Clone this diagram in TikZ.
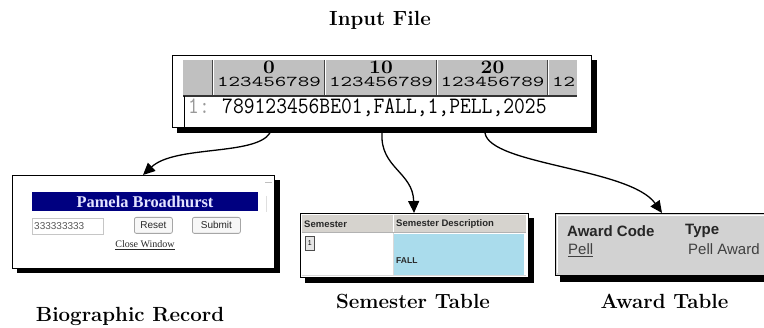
\documentclass[tikz,border=0pt]{standalone}
\usepackage{fontspec}
\usepackage{graphicx}
\usetikzlibrary{arrows.meta,calc}
\newfontfamily\sansf{Liberation Sans}
\newfontfamily\seriff{Liberation Serif}
\definecolor{hdrgray}{RGB}{192,192,192}
\definecolor{wingray}{RGB}{214,211,206}
\definecolor{navyb}{RGB}{0,0,128}
\definecolor{lav}{RGB}{228,228,255}
\definecolor{cellblue}{RGB}{170,220,236}
\definecolor{awgray}{RGB}{210,210,210}
\definecolor{txtdark}{RGB}{40,40,40}
\newcommand{\hdrdig}[1]{\scalebox{1.49}[1]{\fontsize{15}{15}\ttfamily #1}}
\newcommand{\hdrbold}[1]{\scalebox{1.1}[1]{\fontsize{19}{19}\bfseries #1}}
\newcommand{\rowtxt}[1]{\scalebox{1}[1.12]{\fontsize{21}{21}\ttfamily #1}}
\begin{document}
\begin{tikzpicture}[x=1pt,y=-1pt,
  box/.style={draw=black, line width=0.9pt, anchor=north west, inner sep=0pt, outer sep=0pt},
  shadowfill/.style={fill=black},
  caption/.style={anchor=base, inner sep=0pt, font=\fontsize{20.5}{22}\selectfont\bfseries},
  conn/.style={line width=1.3pt, -{Triangle[length=12pt,width=11pt]}},
  btn/.style={draw=gray!70, fill=gray!6, rounded corners=2pt, line width=0.8pt, anchor=north west, inner sep=0pt},
  smallsans/.style={inner sep=0pt, font=\fontsize{10}{10}\sansf},
  hdrtxt/.style={anchor=base, inner sep=0pt},
]
\useasboundingbox (0,0) rectangle (764,328);
\clip (0,0) rectangle (764,328);

% ---------- Input file ----------
\node[caption] (tinput) at (380,26) {Input File};
\fill[shadowfill] (177,60) rectangle (597,133);
\node[box, fill=white, minimum width=419pt, minimum height=72pt] (input) at (172,55) {};
\fill[hdrgray] (183,60) rectangle (577,95);
\foreach \xx in {213,325,437,548} {
  \draw[gray!55!black, line width=0.8pt] (\xx-1,60) -- (\xx-1,95);
  \draw[white, line width=1pt] (\xx,60) -- (\xx,95);
}
\draw[gray!40!black, line width=1.4pt] (183,96) -- (577,96);
\draw[black, line width=0.8pt] (184,96) -- (184,127);
\node[hdrtxt] (h0) at (269,73.5) {\hdrbold{0}};
\node[hdrtxt] (h10) at (381,73.5) {\hdrbold{10}};
\node[hdrtxt] (h20) at (492.5,73.5) {\hdrbold{20}};
\node[hdrtxt] (d1) at (269,86.5) {\hdrdig{123456789}};
\node[hdrtxt] (d2) at (381,86.5) {\hdrdig{123456789}};
\node[hdrtxt] (d3) at (492.5,86.5) {\hdrdig{123456789}};
\node[hdrtxt, anchor=base west] (d4) at (552,86.5) {\hdrdig{12}};
\node[anchor=base west, inner sep=0pt, text=gray!80] (rownum) at (188,114) {\rowtxt{1:}};
\node[anchor=base west, inner sep=0pt] (row) at (222,114) {\rowtxt{789123456BE01,FALL,1,PELL,2025}};

% ---------- Biographic record ----------
\fill[shadowfill] (17,180) rectangle (280,273);
\node[box, fill=white, minimum width=262pt, minimum height=93pt] (bio) at (12,175) {};
\draw[gray!50, line width=1pt] (265,183) -- (272,183);
\draw[gray!25, line width=0.8pt] (266,196) -- (266,212);
\fill[navyb] (32,192) rectangle (258,211);
\node[inner sep=0pt, text=lav, font={\fontsize{16.4}{17}\seriff\bfseries}] (pname) at (145,202) {Pamela Broadhurst};
\node[draw=gray!45, fill=white, line width=0.8pt, anchor=north west, minimum width=71pt, minimum height=16pt, inner sep=0pt] (idfield) at (32,218) {};
\node[smallsans, anchor=west, text=gray!70!black] (idtext) at (34,226.5) {333333333};
\node[btn, minimum width=38pt, minimum height=16pt] (reset) at (134,217) {};
\node[smallsans, text=txtdark] (resett) at (reset.center) {Reset};
\node[btn, minimum width=48pt, minimum height=16pt] (submit) at (192,217) {};
\node[smallsans, text=txtdark] (submitt) at (submit.center) {Submit};
\node[inner sep=0pt, text=txtdark, font={\fontsize{10}{10}\seriff}] (close) at (145,244) {Close Window};
\draw[txtdark, line width=0.5pt] ($(close.base west)+(0,1.5)$) -- ($(close.base east)+(0,1.5)$);
\node[caption] (tbio) at (130,322) {Biographic Record};

% ---------- Semester table ----------
\fill[shadowfill] (305,218) rectangle (534,283);
\node[box, fill=white, minimum width=228pt, minimum height=64pt] (sem) at (300,213) {};
\fill[wingray] (302,215) rectangle (526,232);
\draw[white, line width=1pt] (393,215) -- (393,232);
\draw[gray!60, line width=0.6pt] (302,232.5) -- (526,232.5);
\fill[cellblue] (394,234) rectangle (524,275);
\draw[gray!30, line width=0.6pt] (302,275) -- (526,275);
\draw[gray!30, line width=0.6pt] (393,233) -- (393,275);
\node[anchor=west, inner sep=0pt, text=txtdark, font={\fontsize{9.5}{10}\sansf\bfseries}] (semh1) at (304,224) {Semester};
\node[anchor=west, inner sep=0pt, text=txtdark, font={\fontsize{9.5}{10}\sansf\bfseries}] (semh2) at (396,224) {Semester Description};
\node[draw=gray!60!black, fill=gray!20, anchor=north west, minimum width=9pt, minimum height=14pt, inner sep=0pt, line width=0.6pt, font={\fontsize{7}{7}\sansf}] (semb) at (305,236) {1};
\node[anchor=west, inner sep=0pt, text=txtdark, font={\fontsize{8.5}{9}\sansf\bfseries}] (fall) at (396,261) {FALL};
\node[caption] (tsem) at (413,309) {Semester Table};

% ---------- Award table ----------
\fill[shadowfill] (560,218) rectangle (780,282);
\node[box, fill=awgray, minimum width=220pt, minimum height=62pt] (award) at (555,213) {};
\draw[white, line width=0.8pt] (557.5,273) -- (557.5,215.5) -- (780,215.5);
\node[anchor=west, inner sep=0pt, text=black!85, font={\fontsize{15}{15}\sansf\bfseries}] (awh1) at (567,231) {Award Code};
\node[anchor=west, inner sep=0pt, text=black!85, font={\fontsize{15}{15}\sansf\bfseries}] (awh2) at (685,231) {Type};
\node[anchor=west, inner sep=0pt, text=black!75, font={\fontsize{15}{15}\sansf}] (pell) at (568,249) {Pell};
\draw[black!75, line width=0.7pt] ($(pell.base west)+(0,2)$) -- ($(pell.base east)+(0,2)$);
\node[anchor=west, inner sep=0pt, text=black!75, font={\fontsize{15}{15}\sansf}] (pellaw) at (688,249) {Pell Award};
\node[caption] (taward) at (664.5,309) {Award Table};

% ---------- connectors ----------
\coordinate (s1) at ($(input.south west)+(98,6)$);
\coordinate (s2) at ($(input.south west)+(210,6)$);
\coordinate (s3) at ($(input.south west)+(313,6)$);
\coordinate (e3) at ($(award.north west)+(107,0)$);
\draw[conn] (s1) .. controls (255,156) and (175,145) .. (bio.north);
\draw[conn] (s2) .. controls (380,168) and (413,172) .. (sem.north);
\draw[conn] (s3) .. controls (490,165) and (630,168) .. (e3);
\end{tikzpicture}
\end{document}
